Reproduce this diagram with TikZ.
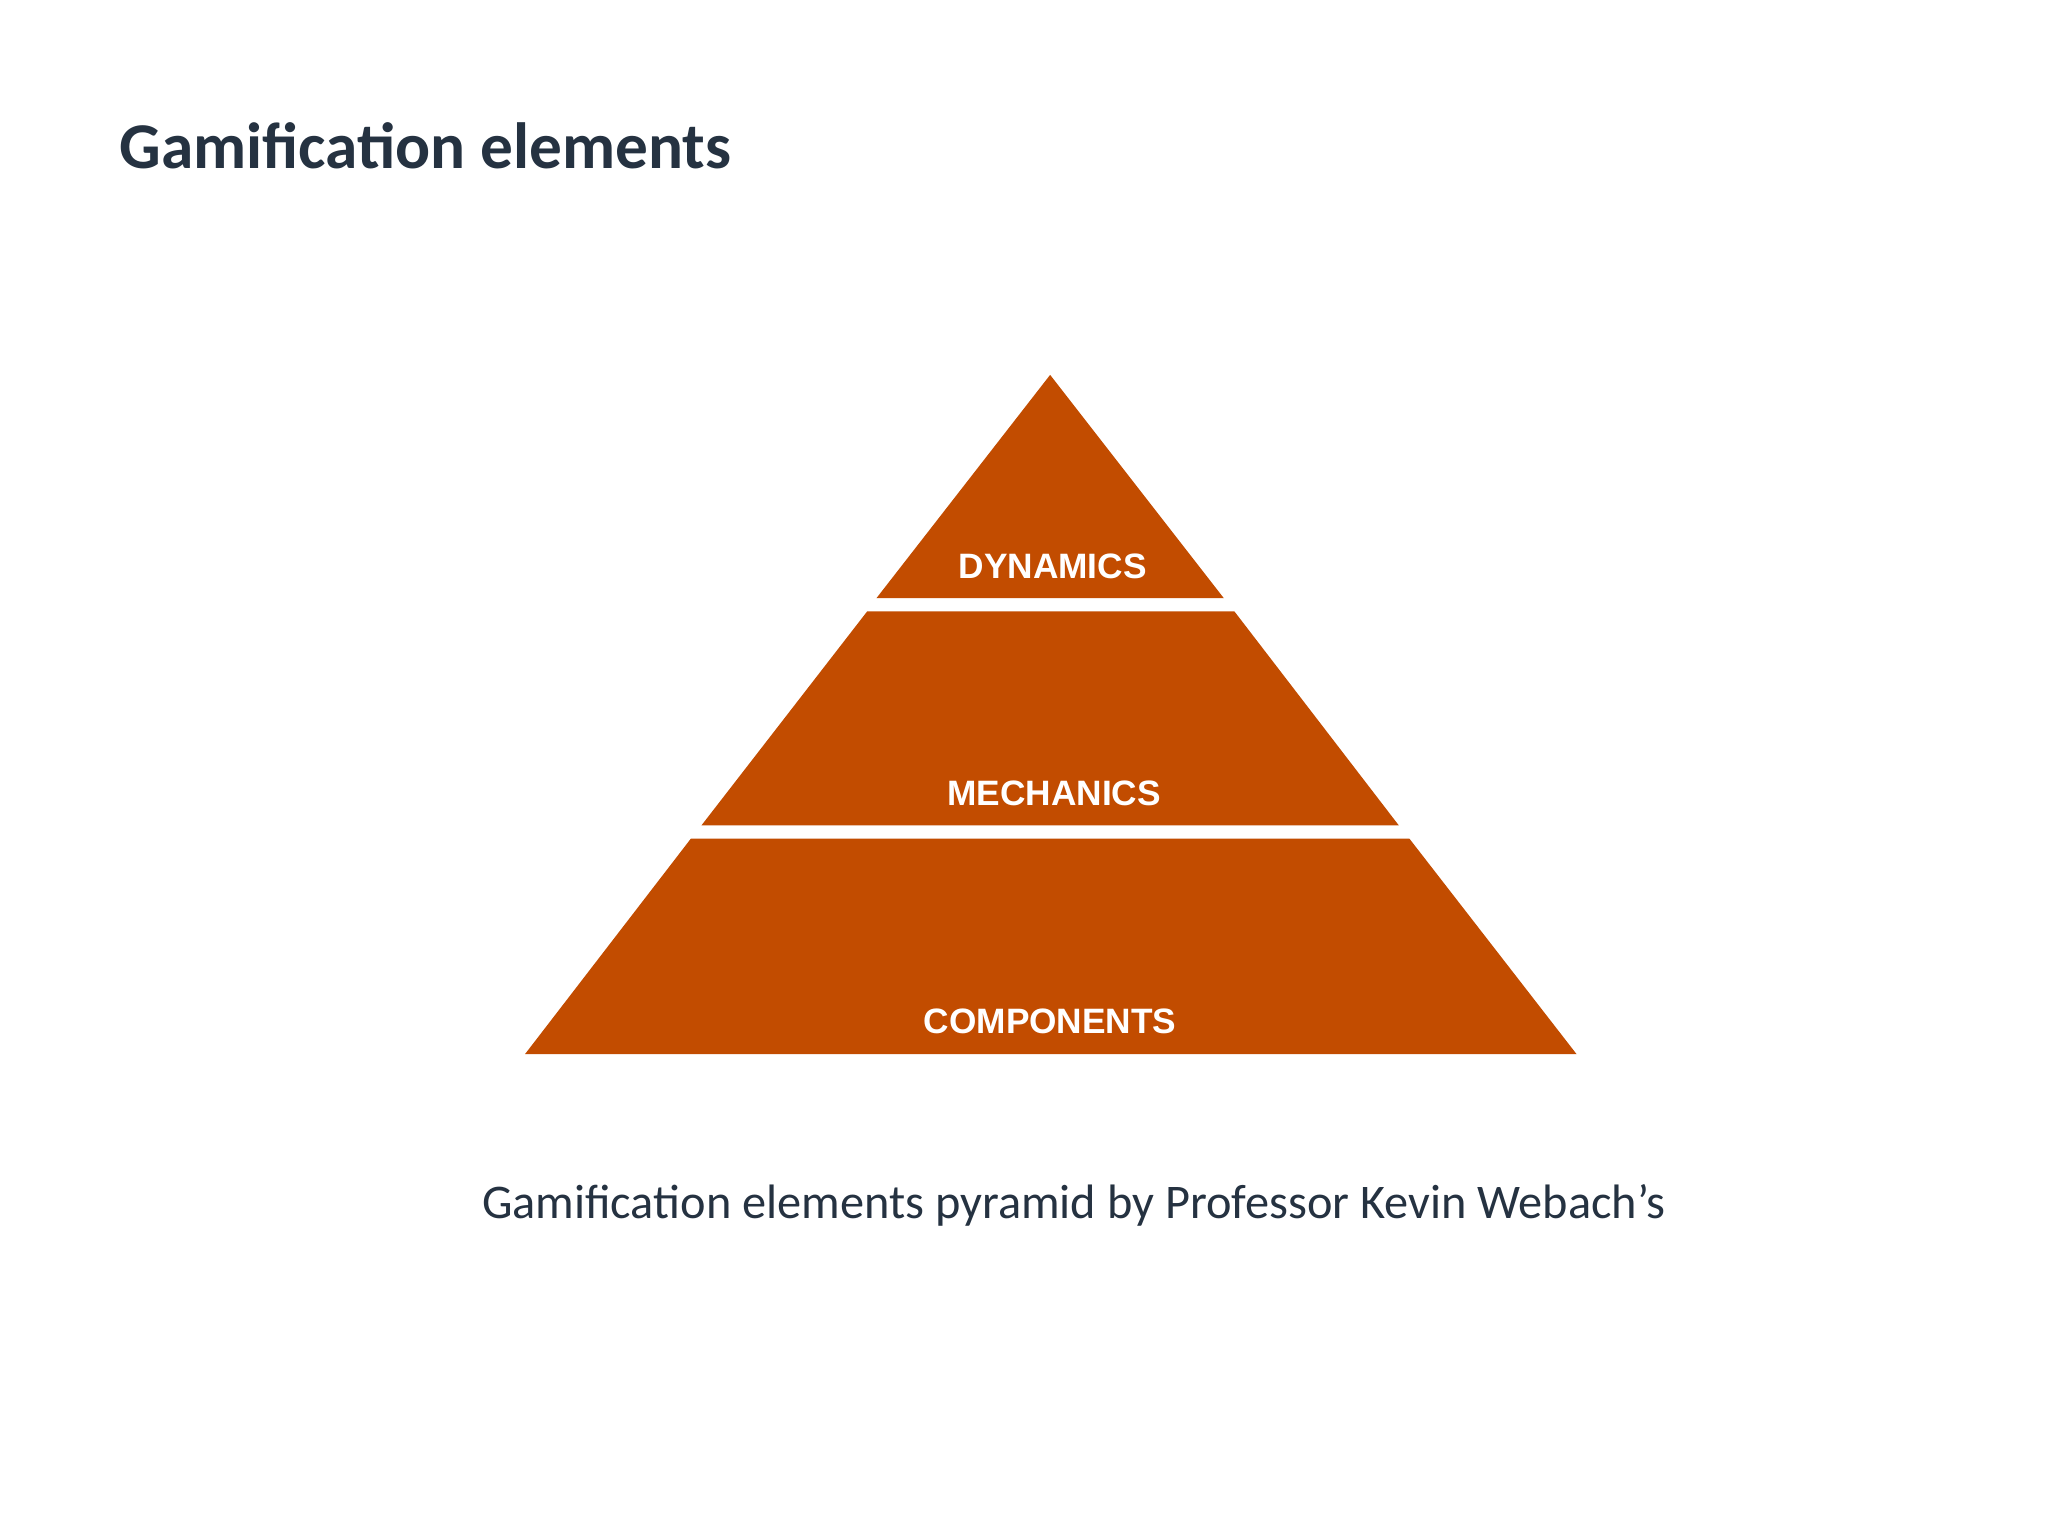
\documentclass[tikz,border=0pt]{standalone}
\usepackage{fontspec}
\setmainfont{Carlito}
\newfontfamily\labfont{Liberation Sans}
\definecolor{pyr}{HTML}{C24C00}
\definecolor{ink}{HTML}{253241}
\begin{document}
\begin{tikzpicture}[x=1pt,y=-1pt,
  tier/.style={fill=pyr,draw=none},
  lab/.style={text=white,font=\labfont\bfseries\fontsize{27}{30}\selectfont,anchor=base}]
\useasboundingbox[fill=white] (0,0) rectangle (1568,1175);
\node[anchor=base west,text=ink,font=\bfseries\fontsize{50}{56}\selectfont] (title) at (88,129) {Gamification elements};
\fill[tier] (804,287) -- (937,458) -- (671,458) -- cycle;
\fill[tier] (664,468) -- (945,468) -- (1071,632) -- (537,632) -- cycle;
\fill[tier] (529,642) -- (1079,642) -- (1207,807) -- (402,807) -- cycle;
\node[lab] (dyn) at (806,443) {DYNAMICS};
\node[lab] (mech) at (807,617) {MECHANICS};
\node[lab] (comp) at (804,791) {COMPONENTS};
\node[anchor=base,text=ink,font=\fontsize{37}{42}\selectfont] (cap) at (822,933) {Gamification elements pyramid by Professor Kevin Webach’s};
\end{tikzpicture}
\end{document}
